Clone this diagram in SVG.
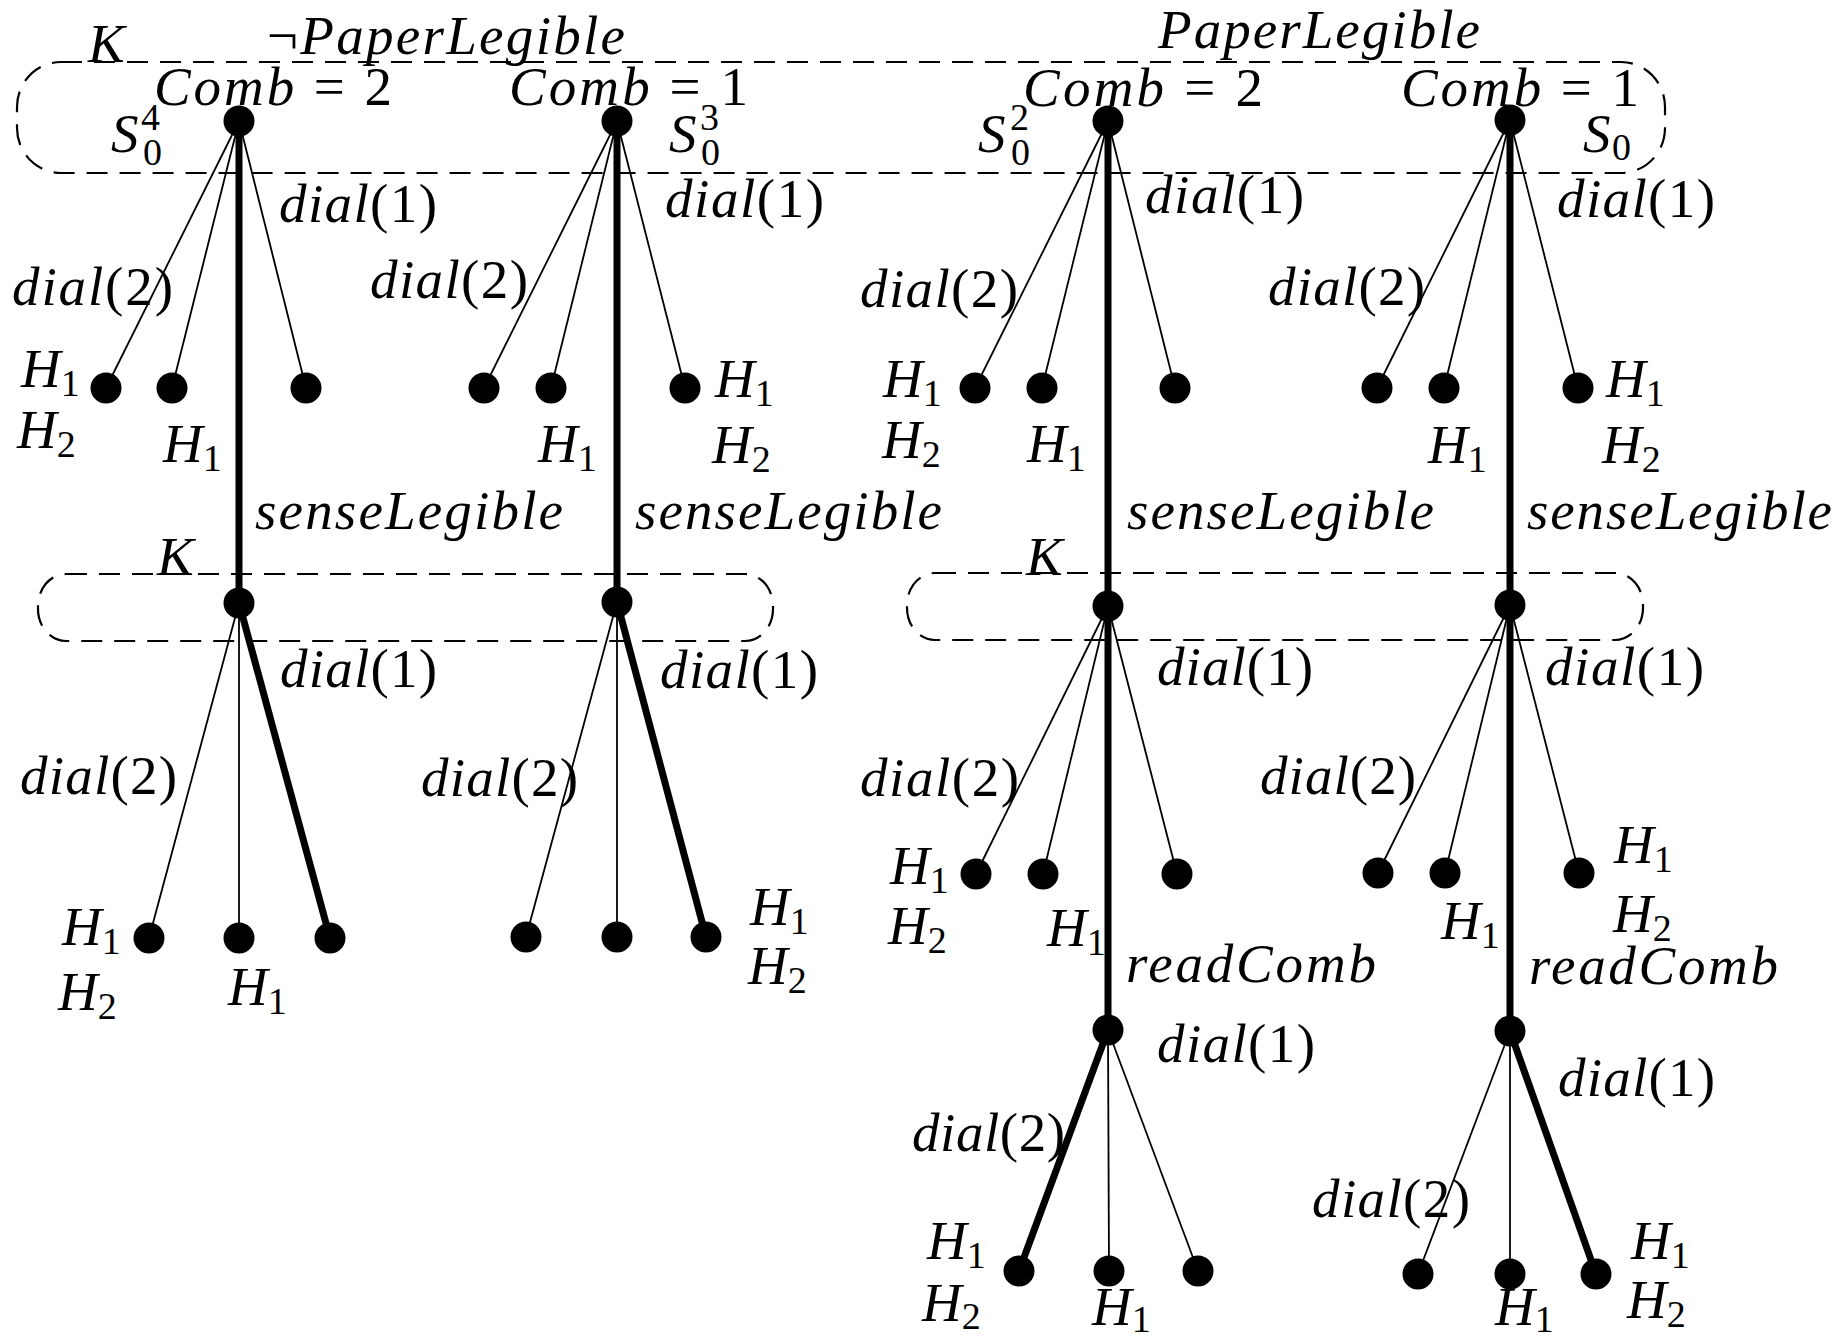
<svg xmlns="http://www.w3.org/2000/svg" width="1840" height="1340" viewBox="0 0 1840 1340">
<style>
.bg{fill:#fff}
.t{font-family:"Liberation Serif","Times New Roman",serif;font-size:55px;fill:#000}
.i{font-style:italic}
.s{font-size:38px;font-style:normal}
.thin{stroke:#000;stroke-width:1.8;fill:none}
.thick{stroke:#000;stroke-width:7;fill:none}
.box{stroke:#000;stroke-width:2.2;fill:none;stroke-dasharray:21 12}
.dot{fill:#000}
</style>
<rect class="bg" x="0" y="0" width="1840" height="1340"/>

<g id="information-sets">
<rect class="box" x="17" y="62" width="1648" height="111" rx="44" ry="45"/>
<rect class="box" x="38" y="574" width="735" height="67" rx="28" ry="32"/>
<rect class="box" x="907" y="573" width="736" height="67" rx="28" ry="32"/>
</g>

<g id="connectors">
<!-- tree A -->
<line class="thin" x1="239" y1="121" x2="106" y2="388"/>
<line class="thin" x1="239" y1="121" x2="172" y2="388"/>
<line class="thin" x1="239" y1="121" x2="306" y2="388"/>
<line class="thick" x1="239" y1="121" x2="239" y2="603"/>
<line class="thin" x1="239" y1="603" x2="149" y2="938"/>
<line class="thin" x1="239" y1="603" x2="239" y2="938"/>
<line class="thick" x1="239" y1="603" x2="330" y2="938"/>
<!-- tree B -->
<line class="thin" x1="617" y1="121" x2="484" y2="388"/>
<line class="thin" x1="617" y1="121" x2="551" y2="388"/>
<line class="thin" x1="617" y1="121" x2="685" y2="388"/>
<line class="thick" x1="617" y1="121" x2="617" y2="602"/>
<line class="thin" x1="617" y1="602" x2="526" y2="937"/>
<line class="thin" x1="617" y1="602" x2="617" y2="937"/>
<line class="thick" x1="617" y1="602" x2="706" y2="937"/>
<!-- tree C -->
<line class="thin" x1="1108" y1="121" x2="975" y2="388"/>
<line class="thin" x1="1108" y1="121" x2="1042" y2="388"/>
<line class="thin" x1="1108" y1="121" x2="1175" y2="388"/>
<line class="thick" x1="1108" y1="121" x2="1108" y2="606"/>
<line class="thin" x1="1108" y1="606" x2="976" y2="874"/>
<line class="thin" x1="1108" y1="606" x2="1043" y2="874"/>
<line class="thin" x1="1108" y1="606" x2="1177" y2="874"/>
<line class="thick" x1="1108" y1="606" x2="1108" y2="1030"/>
<line class="thick" x1="1108" y1="1030" x2="1019" y2="1271"/>
<line class="thin" x1="1108" y1="1030" x2="1109" y2="1271"/>
<line class="thin" x1="1108" y1="1030" x2="1198" y2="1271"/>
<!-- tree D -->
<line class="thin" x1="1510" y1="120" x2="1377" y2="388"/>
<line class="thin" x1="1510" y1="120" x2="1444" y2="388"/>
<line class="thin" x1="1510" y1="120" x2="1578" y2="388"/>
<line class="thick" x1="1510" y1="120" x2="1510" y2="605"/>
<line class="thin" x1="1510" y1="605" x2="1378" y2="873"/>
<line class="thin" x1="1510" y1="605" x2="1445" y2="873"/>
<line class="thin" x1="1510" y1="605" x2="1579" y2="873"/>
<line class="thick" x1="1510" y1="605" x2="1510" y2="1031"/>
<line class="thin" x1="1510" y1="1031" x2="1418" y2="1274"/>
<line class="thin" x1="1510" y1="1031" x2="1510" y2="1274"/>
<line class="thick" x1="1510" y1="1031" x2="1596" y2="1274"/>
</g>

<g id="node-A0"><circle class="dot" cx="239" cy="121" r="15.5"/></g>
<g id="node-A1a"><circle class="dot" cx="106" cy="388" r="15.5"/></g>
<g id="node-A1b"><circle class="dot" cx="172" cy="388" r="15.5"/></g>
<g id="node-A1c"><circle class="dot" cx="306" cy="388" r="15.5"/></g>
<g id="node-A2"><circle class="dot" cx="239" cy="603" r="15.5"/></g>
<g id="node-A3a"><circle class="dot" cx="149" cy="938" r="15.5"/></g>
<g id="node-A3b"><circle class="dot" cx="239" cy="938" r="15.5"/></g>
<g id="node-A3c"><circle class="dot" cx="330" cy="938" r="15.5"/></g>

<g id="node-B0"><circle class="dot" cx="617" cy="121" r="15.5"/></g>
<g id="node-B1a"><circle class="dot" cx="484" cy="388" r="15.5"/></g>
<g id="node-B1b"><circle class="dot" cx="551" cy="388" r="15.5"/></g>
<g id="node-B1c"><circle class="dot" cx="685" cy="388" r="15.5"/></g>
<g id="node-B2"><circle class="dot" cx="617" cy="602" r="15.5"/></g>
<g id="node-B3a"><circle class="dot" cx="526" cy="937" r="15.5"/></g>
<g id="node-B3b"><circle class="dot" cx="617" cy="937" r="15.5"/></g>
<g id="node-B3c"><circle class="dot" cx="706" cy="937" r="15.5"/></g>

<g id="node-C0"><circle class="dot" cx="1108" cy="121" r="15.5"/></g>
<g id="node-C1a"><circle class="dot" cx="975" cy="388" r="15.5"/></g>
<g id="node-C1b"><circle class="dot" cx="1042" cy="388" r="15.5"/></g>
<g id="node-C1c"><circle class="dot" cx="1175" cy="388" r="15.5"/></g>
<g id="node-C2"><circle class="dot" cx="1108" cy="606" r="15.5"/></g>
<g id="node-C3a"><circle class="dot" cx="976" cy="874" r="15.5"/></g>
<g id="node-C3b"><circle class="dot" cx="1043" cy="874" r="15.5"/></g>
<g id="node-C3c"><circle class="dot" cx="1177" cy="874" r="15.5"/></g>
<g id="node-C4"><circle class="dot" cx="1108" cy="1030" r="15.5"/></g>
<g id="node-C5a"><circle class="dot" cx="1019" cy="1271" r="15.5"/></g>
<g id="node-C5b"><circle class="dot" cx="1109" cy="1271" r="15.5"/></g>
<g id="node-C5c"><circle class="dot" cx="1198" cy="1271" r="15.5"/></g>

<g id="node-D0"><circle class="dot" cx="1510" cy="120" r="15.5"/></g>
<g id="node-D1a"><circle class="dot" cx="1377" cy="388" r="15.5"/></g>
<g id="node-D1b"><circle class="dot" cx="1444" cy="388" r="15.5"/></g>
<g id="node-D1c"><circle class="dot" cx="1578" cy="388" r="15.5"/></g>
<g id="node-D2"><circle class="dot" cx="1510" cy="605" r="15.5"/></g>
<g id="node-D3a"><circle class="dot" cx="1378" cy="873" r="15.5"/></g>
<g id="node-D3b"><circle class="dot" cx="1445" cy="873" r="15.5"/></g>
<g id="node-D3c"><circle class="dot" cx="1579" cy="873" r="15.5"/></g>
<g id="node-D4"><circle class="dot" cx="1510" cy="1031" r="15.5"/></g>
<g id="node-D5a"><circle class="dot" cx="1418" cy="1274" r="15.5"/></g>
<g id="node-D5b"><circle class="dot" cx="1510" cy="1274" r="15.5"/></g>
<g id="node-D5c"><circle class="dot" cx="1596" cy="1274" r="15.5"/></g>

<g id="labels-top">
<text class="t i" x="88" y="62">K</text>
<text class="t" x="267" y="54" textLength="358">¬<tspan class="i">PaperLegible</tspan></text>
<text class="t i" x="1158" y="48" textLength="322">PaperLegible</text>
<text class="t" x="154" y="105" textLength="238"><tspan class="i">Comb</tspan> = 2</text>
<text class="t" x="509" y="105" textLength="239"><tspan class="i">Comb</tspan> = 1</text>
<text class="t" x="1023" y="106" textLength="240"><tspan class="i">Comb</tspan> = 2</text>
<text class="t" x="1401" y="106" textLength="238"><tspan class="i">Comb</tspan> = 1</text>
<text class="t"><tspan class="i" x="111" y="152">S</tspan><tspan class="s" x="141" y="130">4</tspan><tspan class="s" x="143" y="165">0</tspan></text>
<text class="t"><tspan class="i" x="669" y="152">S</tspan><tspan class="s" x="700" y="130">3</tspan><tspan class="s" x="701" y="165">0</tspan></text>
<text class="t"><tspan class="i" x="978" y="152">S</tspan><tspan class="s" x="1010" y="130">2</tspan><tspan class="s" x="1011" y="165">0</tspan></text>
<text class="t"><tspan class="i" x="1583" y="152">S</tspan><tspan class="s" x="1612" y="160">0</tspan></text>
</g>

<g id="labels-level1">
<text class="t" x="279" y="222" textLength="158"><tspan class="i">dial</tspan>(1)</text>
<text class="t" x="665" y="217" textLength="159"><tspan class="i">dial</tspan>(1)</text>
<text class="t" x="1145" y="213" textLength="159"><tspan class="i">dial</tspan>(1)</text>
<text class="t" x="1557" y="217" textLength="158"><tspan class="i">dial</tspan>(1)</text>
<text class="t" x="12" y="305" textLength="161"><tspan class="i">dial</tspan>(2)</text>
<text class="t" x="370" y="298" textLength="158"><tspan class="i">dial</tspan>(2)</text>
<text class="t" x="860" y="307" textLength="158"><tspan class="i">dial</tspan>(2)</text>
<text class="t" x="1268" y="305" textLength="157"><tspan class="i">dial</tspan>(2)</text>

<text class="t"><tspan class="i" x="21" y="387">H</tspan><tspan class="s" y="395.5">1</tspan></text>
<text class="t"><tspan class="i" x="17" y="448">H</tspan><tspan class="s" y="456.5">2</tspan></text>
<text class="t"><tspan class="i" x="163" y="462">H</tspan><tspan class="s" y="470.5">1</tspan></text>
<text class="t"><tspan class="i" x="538" y="462">H</tspan><tspan class="s" y="470.5">1</tspan></text>
<text class="t"><tspan class="i" x="715" y="397">H</tspan><tspan class="s" y="405.5">1</tspan></text>
<text class="t"><tspan class="i" x="712" y="463">H</tspan><tspan class="s" y="471.5">2</tspan></text>
<text class="t"><tspan class="i" x="883" y="397">H</tspan><tspan class="s" y="405.5">1</tspan></text>
<text class="t"><tspan class="i" x="882" y="458">H</tspan><tspan class="s" y="466.5">2</tspan></text>
<text class="t"><tspan class="i" x="1027" y="462">H</tspan><tspan class="s" y="470.5">1</tspan></text>
<text class="t"><tspan class="i" x="1428" y="463">H</tspan><tspan class="s" y="471.5">1</tspan></text>
<text class="t"><tspan class="i" x="1606" y="397">H</tspan><tspan class="s" y="405.5">1</tspan></text>
<text class="t"><tspan class="i" x="1602" y="463">H</tspan><tspan class="s" y="471.5">2</tspan></text>

<text class="t i" x="255" y="529" textLength="308">senseLegible</text>
<text class="t i" x="635" y="529" textLength="307">senseLegible</text>
<text class="t i" x="1127" y="529" textLength="307">senseLegible</text>
<text class="t i" x="1527" y="529" textLength="305">senseLegible</text>
<text class="t i" x="157" y="575">K</text>
<text class="t i" x="1026" y="575">K</text>
</g>

<g id="labels-level2">
<text class="t" x="280" y="687" textLength="157"><tspan class="i">dial</tspan>(1)</text>
<text class="t" x="660" y="688" textLength="158"><tspan class="i">dial</tspan>(1)</text>
<text class="t" x="1157" y="685" textLength="156"><tspan class="i">dial</tspan>(1)</text>
<text class="t" x="1545" y="685" textLength="159"><tspan class="i">dial</tspan>(1)</text>
<text class="t" x="20" y="794" textLength="157"><tspan class="i">dial</tspan>(2)</text>
<text class="t" x="421" y="796" textLength="157"><tspan class="i">dial</tspan>(2)</text>
<text class="t" x="860" y="796" textLength="159"><tspan class="i">dial</tspan>(2)</text>
<text class="t" x="1260" y="794" textLength="156"><tspan class="i">dial</tspan>(2)</text>

<text class="t"><tspan class="i" x="62" y="945">H</tspan><tspan class="s" y="953.5">1</tspan></text>
<text class="t"><tspan class="i" x="58" y="1010">H</tspan><tspan class="s" y="1018.5">2</tspan></text>
<text class="t"><tspan class="i" x="228" y="1005">H</tspan><tspan class="s" y="1013.5">1</tspan></text>
<text class="t"><tspan class="i" x="750" y="925">H</tspan><tspan class="s" y="933.5">1</tspan></text>
<text class="t"><tspan class="i" x="748" y="984">H</tspan><tspan class="s" y="992.5">2</tspan></text>
<text class="t"><tspan class="i" x="890" y="884">H</tspan><tspan class="s" y="892.5">1</tspan></text>
<text class="t"><tspan class="i" x="888" y="944">H</tspan><tspan class="s" y="952.5">2</tspan></text>
<text class="t"><tspan class="i" x="1047" y="946">H</tspan><tspan class="s" y="954.5">1</tspan></text>
<text class="t"><tspan class="i" x="1614" y="863">H</tspan><tspan class="s" y="871.5">1</tspan></text>
<text class="t"><tspan class="i" x="1613" y="932">H</tspan><tspan class="s" y="940.5">2</tspan></text>
<text class="t"><tspan class="i" x="1441" y="939">H</tspan><tspan class="s" y="947.5">1</tspan></text>

<text class="t i" x="1126" y="982" textLength="250">readComb</text>
<text class="t i" x="1529" y="984" textLength="249">readComb</text>
</g>

<g id="labels-level3">
<text class="t" x="1157" y="1062" textLength="158"><tspan class="i">dial</tspan>(1)</text>
<text class="t" x="912" y="1151" textLength="153"><tspan class="i">dial</tspan>(2)</text>
<text class="t" x="1558" y="1096" textLength="157"><tspan class="i">dial</tspan>(1)</text>
<text class="t" x="1312" y="1217" textLength="158"><tspan class="i">dial</tspan>(2)</text>

<text class="t"><tspan class="i" x="927" y="1259">H</tspan><tspan class="s" y="1267.5">1</tspan></text>
<text class="t"><tspan class="i" x="922" y="1321">H</tspan><tspan class="s" y="1329">2</tspan></text>
<text class="t"><tspan class="i" x="1092" y="1325">H</tspan><tspan class="s" y="1332">1</tspan></text>
<text class="t"><tspan class="i" x="1631" y="1259">H</tspan><tspan class="s" y="1267.5">1</tspan></text>
<text class="t"><tspan class="i" x="1627" y="1318">H</tspan><tspan class="s" y="1326.5">2</tspan></text>
<text class="t"><tspan class="i" x="1495" y="1325">H</tspan><tspan class="s" y="1332">1</tspan></text>
</g>
</svg>
